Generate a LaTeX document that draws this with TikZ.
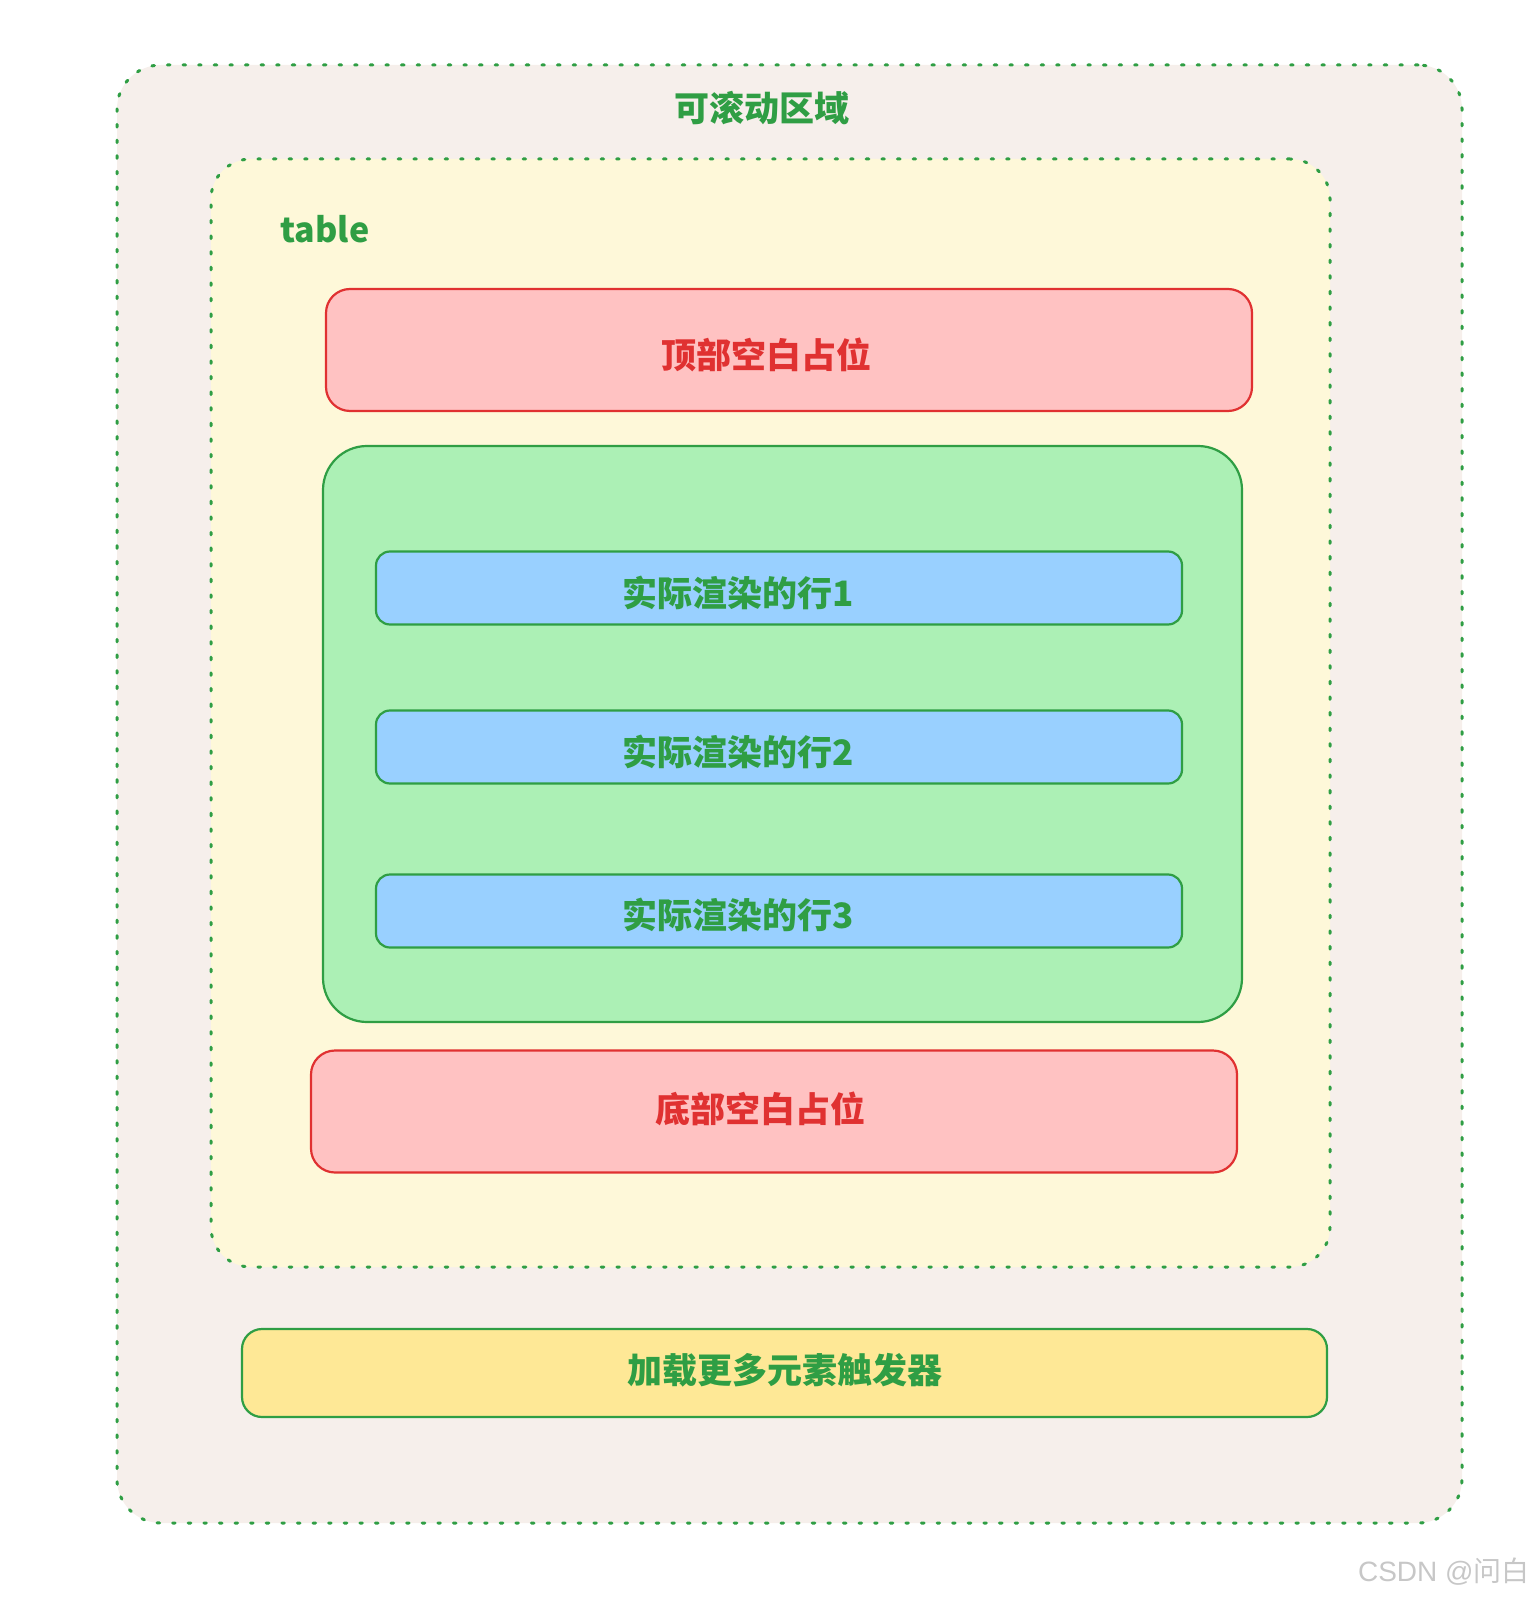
\documentclass[tikz,border=0pt]{standalone}
\usepackage{fontspec}
\setmainfont{Noto Sans CJK SC}
\newfontfamily\markfont{Liberation Sans}
\newfontfamily\markcjk{Noto Sans CJK SC}
\usetikzlibrary{positioning}
\definecolor{xgreen}{HTML}{2F9E44}
\definecolor{xred}{HTML}{E03131}
\definecolor{scrollfill}{HTML}{F6EFEB}
\definecolor{tablefill}{HTML}{FEF8D9}
\definecolor{gapfill}{HTML}{FFC2C2}
\definecolor{renderfill}{HTML}{ACF0B5}
\definecolor{rowfill}{HTML}{99D0FF}
\definecolor{triggerfill}{HTML}{FEE896}
\begin{document}
\begin{tikzpicture}[x=0.5pt,y=-0.5pt,
area/.style={draw=xgreen,line width=1.5pt,dash pattern=on 1.3pt off 6.5pt,line cap=round,inner sep=0pt},
box/.style={draw,line width=1.1pt,inner sep=0pt},
gap/.style={box,draw=xred,fill=gapfill,minimum width=463pt,minimum height=61pt,rounded corners=12pt},
row/.style={box,draw=xgreen,fill=rowfill,minimum width=403pt,minimum height=36.5pt,rounded corners=7pt},
txt/.style={font=\fontsize{17.5pt}{20pt}\selectfont\bfseries,text=xgreen,inner sep=0pt}]
\useasboundingbox (0,0) rectangle (1536,1598);
\node[area,fill=scrollfill,minimum width=672.5pt,minimum height=729pt,rounded corners=22pt] (scroll) at (789.5,794) {};
\node[txt] (scrolltitle) at (762,108) {可滚动区域};
\node[area,fill=tablefill,minimum width=559.5pt,minimum height=554pt,rounded corners=20pt] (table) at (770.5,713) {};
\node[txt,font=\fontsize{17pt}{20pt}\selectfont\bfseries,anchor=base west] (tablelabel) at (280,243) {table};
% top / bottom placeholders
\node[gap] (topgap) at (789,350) {};
\node[txt,text=xred] (toptext) at (766,355) {顶部空白占位};
\node[box,draw=xgreen,fill=renderfill,minimum width=459.5pt,minimum height=288pt,rounded corners=22pt] (rendered) at (782.5,734) {};
\foreach \i/\y/\ty in {1/588/593,2/747/752,3/911/915} {
  \node[row] (row\i) at (779,\y) {};
  \node[txt] (rowtext\i) at (738,\ty) {实际渲染的行\i};
}
\node[gap] (bottomgap) at (774,1111.5) {};
\node[txt,text=xred] (bottomtext) at (760,1109) {底部空白占位};
% trigger
\node[box,draw=xgreen,fill=triggerfill,minimum width=542.5pt,minimum height=44pt,rounded corners=10pt] (trigger) at (784.5,1373) {};
\node[txt] (triggertext) at (785,1370) {加载更多元素触发器};
\node[font=\markfont\fontsize{14pt}{16pt}\selectfont,text=black!22,anchor=east,inner sep=0pt] (mark) at (1530,1572) {CSDN @{\markcjk 问白}};
\end{tikzpicture}
\end{document}
